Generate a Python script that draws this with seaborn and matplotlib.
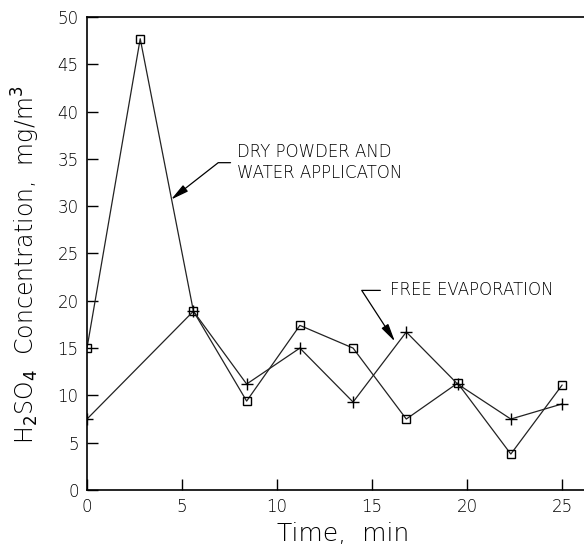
import seaborn as sns
import pandas as pd
import matplotlib.pyplot as plt

sns.set_style("white")
plt.rcParams['font.family'] = ['DejaVu Sans']

time_min = [0.0, 2.8, 5.6, 8.4, 11.2, 14.0, 16.8, 19.5, 22.3, 25.0]
dry_powder = [15.0, 47.7, 18.9, 9.4, 17.4, 15.0, 7.5, 11.3, 3.8, 11.1]
time_free = [0.0, 5.6, 8.4, 11.2, 14.0, 16.8, 19.5, 22.3, 25.0]
free_evap = [7.5, 18.9, 11.2, 15.0, 9.3, 16.7, 11.2, 7.5, 9.1]

dry = pd.DataFrame({"time": time_min, "conc": dry_powder})
free = pd.DataFrame({"time": time_free, "conc": free_evap})


def main():
    fig = plt.figure(figsize=(5.84, 5.46), dpi=100)
    ax = fig.add_axes([87 / 584, 1 - 490 / 546, 1 - 87 / 584, (490 - 17) / 546])

    sns.lineplot(data=dry, x="time", y="conc", marker="s", color="#222222",
                 linewidth=0.9, markersize=6, markerfacecolor="none",
                 markeredgecolor="black", markeredgewidth=1.0, ax=ax)
    sns.lineplot(data=free, x="time", y="conc", marker="+", color="#222222",
                 linewidth=0.9, markersize=8, markeredgecolor="black",
                 markeredgewidth=1.0, ax=ax)

    ax.set_xlim(0, 26.15)
    ax.set_ylim(0, 50)
    ax.set_xticks([0, 5, 10, 15, 20, 25])
    ax.set_yticks(range(0, 51, 5))
    ax.tick_params(direction="in", length=8, width=1, colors="black",
                   labelsize=12, pad=6, bottom=True, left=True)
    for lab in ax.get_xticklabels() + ax.get_yticklabels():
        lab.set_fontweight("light")
    for side in ["left", "bottom", "top"]:
        ax.spines[side].set_color("black")
        ax.spines[side].set_linewidth(1.2)
    ax.spines["right"].set_visible(False)

    ax.set_xlabel("Time,  min", fontsize=18, fontweight="light", color="black",
                  va="center")
    ax.xaxis.set_label_coords((343 - 87) / 497, -(534 - 490) / 473)
    ax.set_ylabel(r"H$_2$SO$_4$  Concentration,  mg/m$^3$", fontsize=17,
                  fontweight="light", color="black", va="center")
    ax.yaxis.set_label_coords(-(87 - 26) / 497, (490 - 265) / 473)

    ax.annotate("DRY POWDER AND\nWATER APPLICATON", xy=(4.42, 30.7),
                xytext=(7.9, 34.6), fontsize=12, fontweight="light",
                va="center", ha="left", linespacing=1.2, color="black",
                arrowprops=dict(arrowstyle="-|>,head_length=0.9,head_width=0.2",
                                color="black", lw=0.9, shrinkA=0, shrinkB=0,
                                connectionstyle="angle,angleA=0,angleB=38,rad=0",
                                relpos=(-0.04, 0.5)))
    ax.annotate("FREE EVAPORATION", xy=(16.2, 15.7), xytext=(15.95, 21.1),
                fontsize=12, fontweight="light", va="center", ha="left",
                color="black",
                arrowprops=dict(arrowstyle="-|>,head_length=0.9,head_width=0.2",
                                color="black", lw=0.9, shrinkA=0, shrinkB=0,
                                connectionstyle="angle,angleA=0,angleB=-57,rad=0",
                                relpos=(-0.06, 0.5)))

    fig.savefig("out.png", dpi=100)


if __name__ == "__main__":
    main()
